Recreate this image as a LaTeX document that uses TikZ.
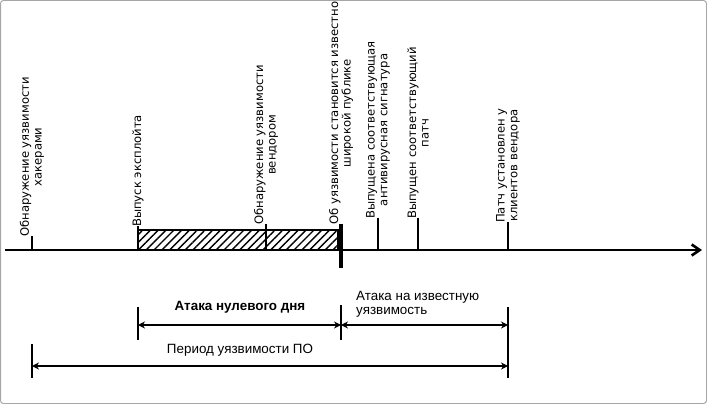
\documentclass[tikz,border=0pt]{standalone}
\usepackage{fontspec}
\setmainfont{DejaVu Sans}
\newfontfamily\narrowf{Liberation Sans}
\usetikzlibrary{patterns.meta,arrows.meta}
\begin{document}
\begin{tikzpicture}[x=1pt,y=-1pt,
  lbl/.style={rotate=90,anchor=west,align=center,font=\fontsize{11.6}{12.6}\selectfont,inner sep=1pt},
  tick/.style={line width=1.8pt},
  dim/.style={line width=2.2pt,{Stealth[length=7pt,width=7pt]}-{Stealth[length=7pt,width=7pt]}},
  blbl/.style={font=\narrowf\fontsize{13.4}{14.4}\selectfont,inner sep=1pt}]
\useasboundingbox (0,0) rectangle (707,404);
\clip (0,0) rectangle (707,404);
\draw[gray!70,line width=1pt,rounded corners=3pt] (0.5,0.5) rectangle (706.5,403.5);
% hatched bar
\fill[pattern={Lines[angle=45,distance=5.5pt,line width=1.4pt]}] (138,230) rectangle (338,250);
\draw[line width=1.4pt] (138,230) rectangle (338,250);
% axis
\coordinate (s) at (5,250);
\coordinate (e) at (702,250);
\draw[line width=2.6pt,-{Straight Barb[length=8pt,width=11pt]}] (s) -- (e);
% ticks
\draw[tick] (32,250) -- (32,236) coordinate (t1);
\draw[tick] (138,250) -- (138,226) coordinate (t2);
\draw[tick] (266,250) -- (266,224) coordinate (t3);
\draw[line width=3.4pt] (341,268) -- (341,224) coordinate (t4);
\draw[tick] (378,250) -- (378,218) coordinate (t5);
\draw[tick] (418,250) -- (418,218) coordinate (t6);
\draw[tick] (508,250) -- (508,222) coordinate (t7);
\node[lbl] (l1) at ([yshift=-2]t1) {Обнаружение уязвимости\\хакерами};
\node[lbl] (l2) at ([yshift=-2]t2) {Выпуск эксплойта};
\node[lbl] (l3) at ([yshift=-2]t3) {Обнаружение уязвимости\\вендором};
\node[lbl] (l4) at ([yshift=-2]t4) {Об уязвимости становится известно\\широкой публике};
\node[lbl] (l5) at ([yshift=-2]t5) {Выпущена соответствующая\\антивирусная сигнатура};
\node[lbl] (l6) at ([yshift=-2]t6) {Выпущен соответствующий\\патч};
\node[lbl] (l7) at ([yshift=-2]t7) {Патч установлен у\\клиентов вендора};
% bottom
\draw[tick] (138,307) -- (138,340);
\draw[tick] (341,305) -- (341,340);
\draw[tick] (508,307) -- (508,378);
\draw[tick] (32,344) -- (32,378);
\coordinate (a1) at (138,325); \coordinate (a2) at (341,325); \coordinate (a3) at (508,325);
\coordinate (b1) at (32,366); \coordinate (b2) at (508,366);
\draw[dim] (a1) -- (a2);
\draw[dim] (a2) -- (a3);
\draw[dim] (b1) -- (b2);
\node[blbl,font=\narrowf\bfseries\fontsize{13.4}{14.4}\selectfont] (z) at (240,307) {Атака нулевого дня};
\node[blbl,anchor=west,align=left] (k) at (355,304) {Атака на известную\\уязвимость};
\node[blbl] (p) at (240,350) {Период уязвимости ПО};
\end{tikzpicture}
\end{document}
